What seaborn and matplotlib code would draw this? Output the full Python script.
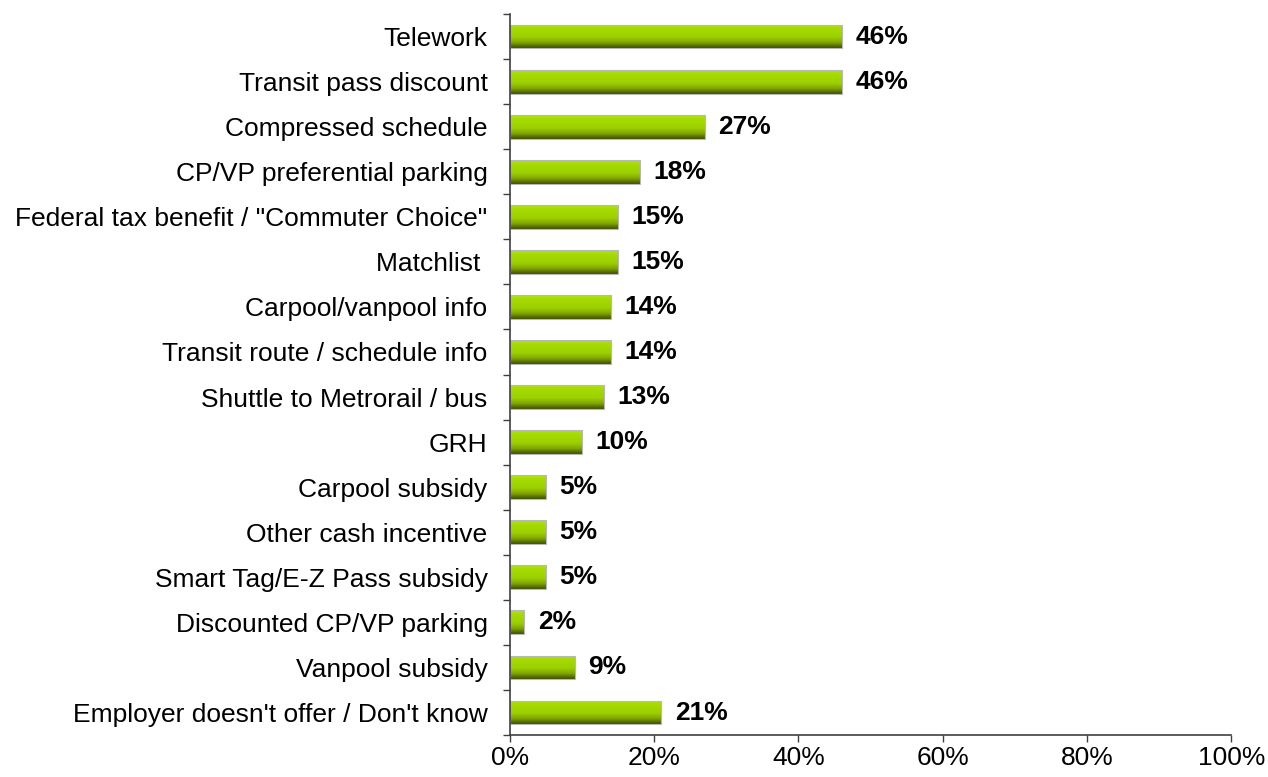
import numpy as np
import pandas as pd
import matplotlib
matplotlib.use("Agg")
import matplotlib.pyplot as plt
import seaborn as sns
from matplotlib.colors import LinearSegmentedColormap
from matplotlib.ticker import FixedLocator, PercentFormatter

# --- datos ---
CATEGORIAS = [
    "Telework",
    "Transit pass discount",
    "Compressed schedule",
    "CP/VP preferential parking",
    'Federal tax benefit / "Commuter Choice"',
    "Matchlist ",
    "Carpool/vanpool info",
    "Transit route / schedule info",
    "Shuttle to Metrorail / bus",
    "GRH",
    "Carpool subsidy",
    "Other cash incentive",
    "Smart Tag/E-Z Pass subsidy",
    "Discounted CP/VP parking",
    "Vanpool subsidy",
    "Employer doesn't offer / Don't know",
]
PORCENTAJES = [46, 46, 27, 18, 15, 15, 14, 14, 13, 10, 5, 5, 5, 2, 9, 21]
TICKS_X = [0, 20, 40, 60, 80, 100]

# --- estilo ---
sns.set_theme(style="white")
plt.rcParams["font.family"] = ["Liberation Sans", "DejaVu Sans"]
FS = 19

df = pd.DataFrame({"cat": CATEGORIAS, "pct": PORCENTAJES})

fig = plt.figure(figsize=(12.68, 7.77), dpi=100)
ax = fig.add_axes([0.402, 0.054, 0.569, 0.928])

sns.barplot(data=df, x="pct", y="cat", color="#9ccf00", width=0.53,
            edgecolor="#b8b8b8", linewidth=0.8, ax=ax)

# degradado vertical dentro de cada barra (claro arriba, oscuro abajo)
cmap = LinearSegmentedColormap.from_list(
    "verde", [(0.0, "#b2e21a"), (0.15, "#a6dc00"), (0.55, "#9ccf00"),
              (0.78, "#7fa300"), (1.0, "#3e4f00")])
grad = np.linspace(0, 1, 64).reshape(-1, 1)
for patch in ax.patches:
    x0, y0 = patch.get_x(), patch.get_y()
    w, h = patch.get_width(), patch.get_height()
    im = ax.imshow(grad, cmap=cmap, aspect="auto", origin="upper",
                   extent=[x0, x0 + w, y0 + h, y0], zorder=patch.get_zorder() + 0.1)
    im.set_clip_path(patch)
    patch.set_facecolor("none")
    patch.set_zorder(patch.get_zorder() + 0.2)

# etiquetas de valor
for i, v in enumerate(PORCENTAJES):
    ax.annotate(f"{v}%", xy=(v, i), xytext=(10, 0), textcoords="offset points",
                ha="left", va="center", fontsize=FS, fontweight="bold", color="black")

ax.set_xlim(0, 100)
ax.set_ylim(len(CATEGORIAS) - 0.5, -0.5)
ax.set_xlabel("")
ax.set_ylabel("")

ax.xaxis.set_major_locator(FixedLocator(TICKS_X))
ax.xaxis.set_major_formatter(PercentFormatter(decimals=0))
ax.yaxis.set_minor_locator(FixedLocator(np.arange(-0.5, len(CATEGORIAS), 1.0)))

ax.tick_params(axis="x", which="major", direction="out", length=5, width=1,
               color="#404040", labelsize=FS, labelcolor="black", pad=3, bottom=True)
ax.tick_params(axis="y", which="major", length=0, labelsize=FS,
               labelcolor="black", pad=16)
ax.tick_params(axis="y", which="minor", direction="out", length=5, width=1,
               color="#404040", left=True)

for s in ["top", "right"]:
    ax.spines[s].set_visible(False)
for s in ["left", "bottom"]:
    ax.spines[s].set_color("#404040")
    ax.spines[s].set_linewidth(1.2)

fig.savefig("out.png", dpi=100)
